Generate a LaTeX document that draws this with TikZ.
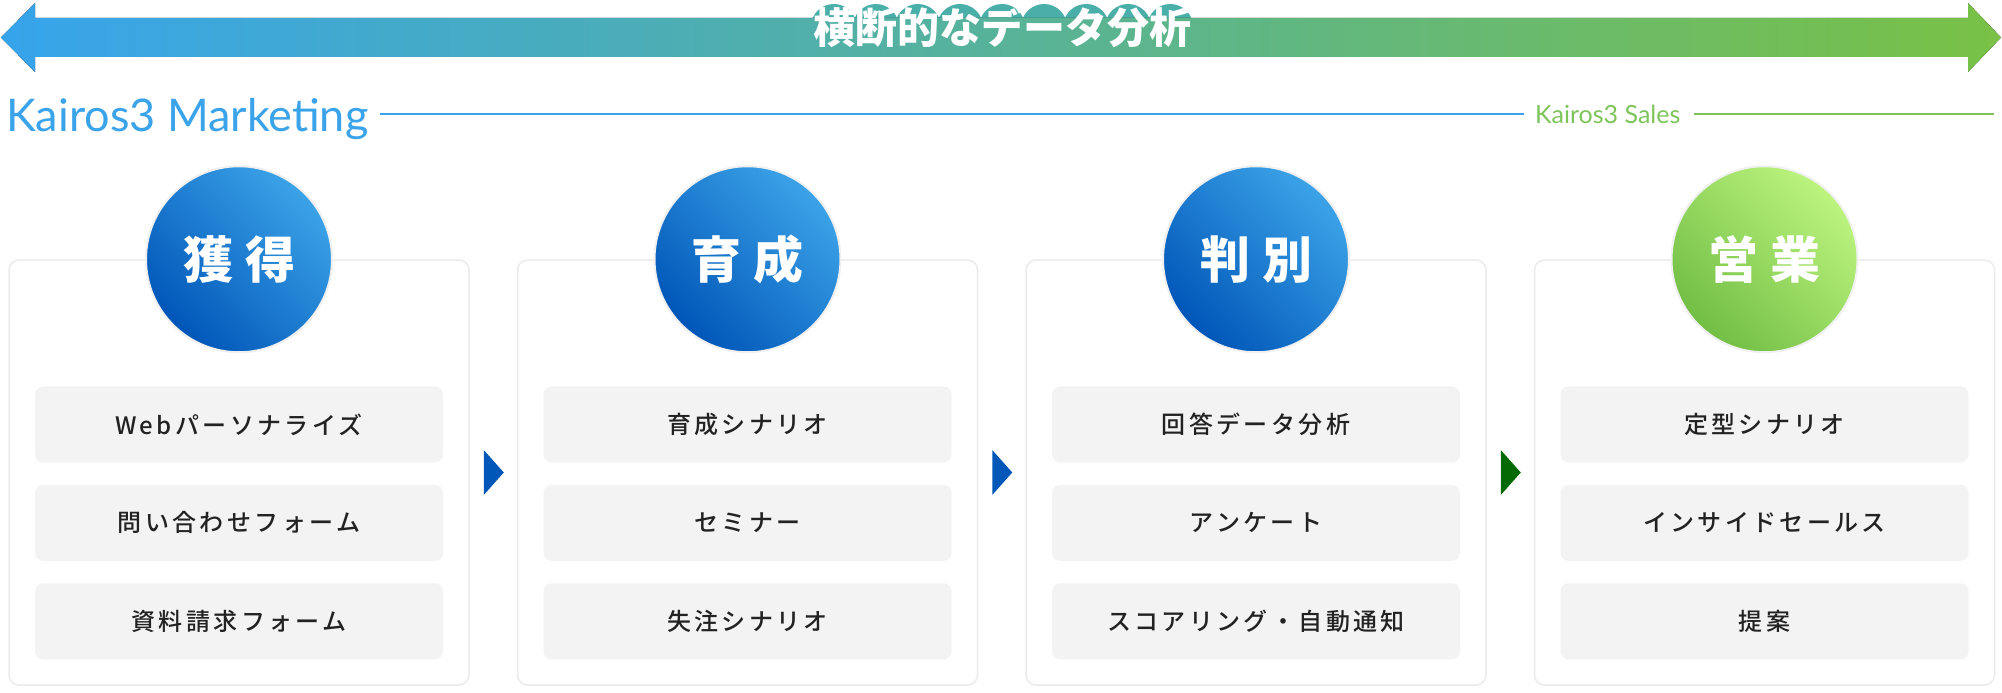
\documentclass[tikz,border=0pt]{standalone}
\usepackage{fontspec}
\setmainfont{Lato}
\newfontfamily\jp{Noto Sans CJK JP}
\newfontfamily\jpsp[LetterSpace=14]{Noto Sans CJK JP Medium}
\usetikzlibrary{positioning,calc,backgrounds}

\definecolor{mkblue}{HTML}{3AA3E9}
\definecolor{slgreen}{HTML}{7DC45A}
\definecolor{barblue}{HTML}{36A4EC}
\definecolor{barmid}{HTML}{4BAFA9}
\definecolor{bargreen}{HTML}{79C146}
\definecolor{circdark}{HTML}{0056B8}
\definecolor{circlight}{HTML}{3CA3E8}
\definecolor{grdark}{HTML}{72BE45}
\definecolor{grlight}{HTML}{BCF47E}
\definecolor{itemgray}{HTML}{F3F3F3}
\definecolor{itemtext}{HTML}{222222}
\definecolor{tipblue}{HTML}{0057B8}
\definecolor{tipgreen}{HTML}{046A04}

\tikzstyle{stage} = [rectangle, draw=black!8, line width=1.5pt, fill=white, rounded corners=10pt, minimum width=460pt, minimum height=425pt]
\tikzstyle{badge} = [circle, draw=black!6, line width=2pt, minimum size=186pt, inner sep=0pt, text=white,
	font=\jp\bfseries\fontsize{50}{50}\selectfont, top color=circlight, bottom color=circdark, shading angle=-45]
\tikzstyle{badge2} = [badge, top color=grlight, bottom color=grdark, shading angle=-45]
\tikzstyle{item} = [rectangle, fill=itemgray, rounded corners=8pt, minimum width=408pt, minimum height=76pt,
	text=itemtext, font=\jpsp\fontsize{24}{24}\selectfont]
\tikzstyle{titletext} = [inner sep=0pt, text=white, font=\jp\bfseries\fontsize{42}{42}\selectfont]
\tikzstyle{mktext} = [inner sep=0pt, text=mkblue, font=\fontsize{45}{45}\selectfont]
\tikzstyle{saletext} = [inner sep=0pt, text=slgreen, font=\fontsize{25}{25}\selectfont]
\tikzstyle{mkline} = [draw=mkblue, line width=2pt]
\tikzstyle{slline} = [draw=slgreen, line width=2pt]

\begin{document}
\begin{tikzpicture}[x=1pt, y=-1pt]
	\useasboundingbox (0,0) rectangle (2002,693);

	% top bar
	\fill[left color=barblue, middle color=barmid, right color=bargreen]
		(1,37.5) -- (35,3) -- (35,18) -- (1968,18) -- (1968,3) -- (2001,37.5)
		-- (1968,72) -- (1968,57) -- (35,57) -- (35,72) -- cycle;
	\node[titletext] (title) at (1002,27) {横断的なデータ分析};
	\begin{scope}[on background layer]
		\foreach \k in {0,...,8}
			\fill[barmid] ($(title.west)!{(\k+0.5)/9}!(title.east)$) circle[radius=23];
	\end{scope}

	\node[mktext, anchor=base west] (mk) at (6,131) {Kairos3 Marketing};
	\node[saletext, anchor=base west] (sales) at (1535,123) {Kairos3 Sales};
	\coordinate (rule) at (0,114);
	\coordinate (ruleend) at (1994,114);
	\draw[mkline] ($(mk.east |- rule)+(11,0)$) -- ($(sales.west |- rule)+(-11,0)$);
	\draw[slline] ($(sales.east |- rule)+(13,0)$) -- (ruleend);

	% stages
	\node[stage] (s1) at (239,472.5) {};
	\node[stage, right=47pt of s1] (s2) {};
	\node[stage, right=47pt of s2] (s3) {};
	\node[stage, right=47pt of s3] (s4) {};

	\node[badge] (c1) at (s1.north) {獲\hspace{12pt}得};
	\node[badge] (c2) at (s2.north) {育\hspace{12pt}成};
	\node[badge] (c3) at (s3.north) {判\hspace{12pt}別};
	\node[badge2] (c4) at (s4.north) {営\hspace{12pt}業};

	\node[item, below=127pt of s1.north] (i11) {Webパーソナライズ};
	\node[item, below=22pt of i11] (i12) {問い合わせフォーム};
	\node[item, below=22pt of i12] (i13) {資料請求フォーム};
	\node[item, below=127pt of s2.north] (i21) {育成シナリオ};
	\node[item, below=22pt of i21] (i22) {セミナー};
	\node[item, below=22pt of i22] (i23) {失注シナリオ};
	\node[item, below=127pt of s3.north] (i31) {回答データ分析};
	\node[item, below=22pt of i31] (i32) {アンケート};
	\node[item, below=22pt of i32] (i33) {スコアリング・自動通知};
	\node[item, below=127pt of s4.north] (i41) {定型シナリオ};
	\node[item, below=22pt of i41] (i42) {インサイドセールス};
	\node[item, below=22pt of i42] (i43) {提案};

	% markers between stages
	\coordinate[right=14pt of s1] (t1);
	\coordinate[right=14pt of s2] (t2);
	\coordinate[right=14pt of s3] (t3);
	\fill[tipblue] (t1) ++(0,-22.5) -- ++(20,22.5) -- ++(-20,22.5) -- cycle;
	\fill[tipblue] (t2) ++(0,-22.5) -- ++(20,22.5) -- ++(-20,22.5) -- cycle;
	\fill[tipgreen] (t3) ++(0,-22.5) -- ++(20,22.5) -- ++(-20,22.5) -- cycle;
\end{tikzpicture}
\end{document}
